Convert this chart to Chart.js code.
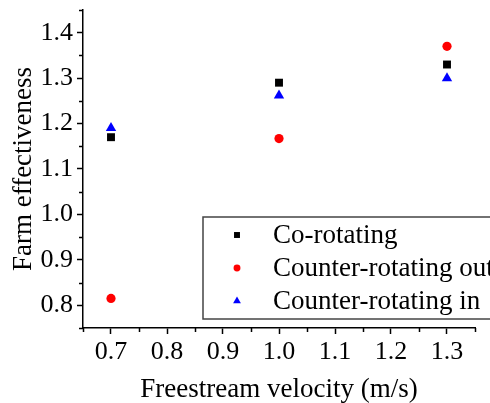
<!DOCTYPE html>
<html>
<head>
<meta charset="utf-8">
<script src="https://cdn.jsdelivr.net/npm/chart.js@4"></script>
<style>
  html, body { margin: 0; padding: 0; background: #fff; }
  #wrap { width: 490px; height: 403px; }
</style>
</head>
<body>
<div id="wrap"><canvas id="farmChart" width="490" height="403"></canvas></div>
<script>
// velocities on the x axis
const velocities = [0.7, 1.0, 1.3];

// farm effectiveness per configuration
const coRotating = [1.17, 1.29, 1.33];
const counterOut = [0.815, 1.167, 1.37];
const counterIn = [1.19, 1.262, 1.30];

const seriesNames = ["Co-rotating", "Counter-rotating out", "Counter-rotating in"];

// axis ticks
const xTicks = [0.7, 0.8, 0.9, 1.0, 1.1, 1.2, 1.3];
const xMinor = [0.65, 0.75, 0.85, 0.95, 1.05, 1.15, 1.25, 1.35];
const yTicks = [0.8, 0.9, 1.0, 1.1, 1.2, 1.3, 1.4];
const yMinor = [0.75, 0.85, 0.95, 1.05, 1.15, 1.25, 1.35, 1.45];

const FONT = "'Liberation Serif', 'Times New Roman', serif";

function points(ys) {
  return velocities.map((v, i) => ({ x: v, y: ys[i] }));
}

// small outward minor ticks on both axes
const minorTicks = {
  id: "minorTicks",
  afterDraw(chart) {
    const ctx = chart.ctx;
    const xs = chart.scales.x;
    const ys = chart.scales.y;
    ctx.save();
    ctx.strokeStyle = "#000";
    ctx.lineWidth = 1.5;
    ctx.beginPath();
    xMinor.forEach(v => {
      const px = Math.round(xs.getPixelForValue(v)) + 0.5;
      ctx.moveTo(px, xs.top);
      ctx.lineTo(px, xs.top + 4);
    });
    yMinor.forEach(v => {
      const py = Math.round(ys.getPixelForValue(v)) + 0.5;
      ctx.moveTo(ys.right, py);
      ctx.lineTo(ys.right - 4, py);
    });
    ctx.stroke();
    ctx.restore();
  }
};

function drawMarker(ctx, style, x, y, r) {
  if (style === "rect") {
    const s = Math.SQRT1_2 * r;
    ctx.rect(x - s, y - s, 2 * s, 2 * s);
  } else if (style === "circle") {
    ctx.arc(x, y, r, 0, Math.PI * 2);
  } else {
    ctx.moveTo(x, y - r);
    ctx.lineTo(x + r * 0.866, y + r / 2);
    ctx.lineTo(x - r * 0.866, y + r / 2);
    ctx.closePath();
  }
}

// boxed legend sitting in the lower right of the plot
const boxLegend = {
  id: "boxLegend",
  afterDraw(chart) {
    const ctx = chart.ctx;
    ctx.save();
    ctx.fillStyle = "#fff";
    ctx.fillRect(203, 217, 300, 102);
    ctx.strokeStyle = "#444";
    ctx.lineWidth = 1.5;
    ctx.strokeRect(203, 217, 300, 102);
    ctx.font = "27px " + FONT;
    ctx.textBaseline = "middle";
    chart.data.datasets.forEach((ds, i) => {
      const y = 235 + i * 33;
      ctx.fillStyle = ds.backgroundColor;
      ctx.beginPath();
      drawMarker(ctx, ds.pointStyle, 237, y, ds.pointRadius * 0.75);
      ctx.fill();
      ctx.fillStyle = "#000";
      ctx.fillText(ds.label, 273, y + 1);
    });
    ctx.restore();
  }
};

const ctx = document.getElementById("farmChart").getContext("2d");
const farmChart = new Chart(ctx, {
  type: "scatter",
  data: {
    datasets: [
      {
        label: seriesNames[0],
        data: points(coRotating),
        pointStyle: "rect",
        pointRadius: 5.6,
        backgroundColor: "#000",
        borderColor: "#000",
        borderWidth: 0
      },
      {
        label: seriesNames[1],
        data: points(counterOut),
        pointStyle: "circle",
        pointRadius: 4.6,
        backgroundColor: "#ff0000",
        borderColor: "#ff0000",
        borderWidth: 0
      },
      {
        label: seriesNames[2],
        data: points(counterIn),
        pointStyle: "triangle",
        pointRadius: 6,
        backgroundColor: "#0000ff",
        borderColor: "#0000ff",
        borderWidth: 0
      }
    ]
  },
  options: {
    responsive: false,
    animation: false,
    layout: { padding: { top: 10, right: 15, left: 0, bottom: 0 } },
    plugins: {
      legend: { display: false },
      tooltip: { enabled: false }
    },
    scales: {
      x: {
        type: "linear",
        min: 0.65,
        max: 1.35,
        afterBuildTicks: scale => { scale.ticks = xTicks.map(v => ({ value: v })); },
        afterFit: scale => {
          scale.height = 75;
          scale.paddingLeft = 0;
          scale.paddingRight = 0;
        },
        border: { display: true, color: "#000", width: 1.5 },
        grid: { drawOnChartArea: false, drawTicks: true, tickLength: 6, tickColor: "#000", tickWidth: 1.5 },
        ticks: {
          color: "#000",
          padding: 3,
          maxRotation: 0,
          font: { family: FONT, size: 26 },
          callback: v => v.toFixed(1)
        },
        title: {
          display: true,
          text: "Freestream velocity (m/s)",
          color: "#000",
          font: { family: FONT, size: 27, lineHeight: 1 },
          padding: 0
        }
      },
      y: {
        type: "linear",
        min: 0.75,
        max: 1.45,
        afterBuildTicks: scale => { scale.ticks = yTicks.map(v => ({ value: v })); },
        afterFit: scale => {
          scale.width = 83;
          scale.paddingTop = 0;
          scale.paddingBottom = 0;
        },
        border: { display: true, color: "#000", width: 1.5 },
        grid: { drawOnChartArea: false, drawTicks: true, tickLength: 6, tickColor: "#000", tickWidth: 1.5 },
        ticks: {
          color: "#000",
          padding: 4,
          font: { family: FONT, size: 26 },
          callback: v => v.toFixed(1)
        },
        title: {
          display: true,
          text: "Farm effectiveness",
          color: "#000",
          font: { family: FONT, size: 27, lineHeight: 1 },
          padding: { top: 10, bottom: 0 }
        }
      }
    }
  },
  plugins: [minorTicks, boxLegend]
});
</script>
</body>
</html>
